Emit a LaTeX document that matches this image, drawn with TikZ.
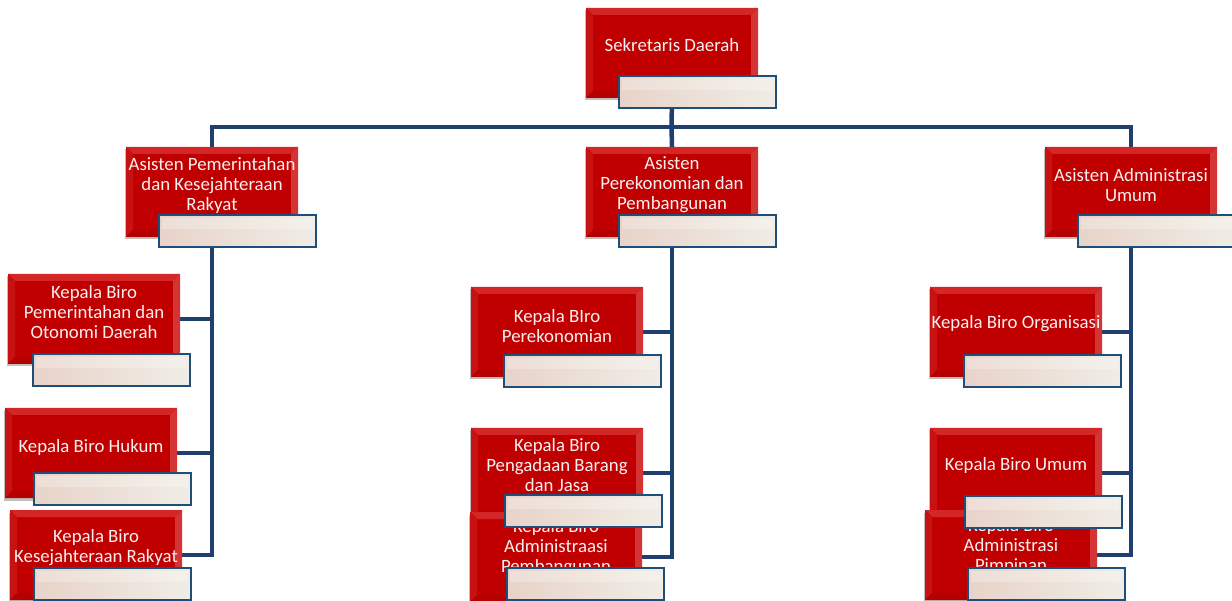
\documentclass[tikz,border=0pt]{standalone}
\usepackage{fontspec}
\setmainfont{Carlito}
\usetikzlibrary{shadows,backgrounds}
\definecolor{redA}{HTML}{C00000}
\definecolor{redTop}{HTML}{D42626}
\definecolor{redLeft}{HTML}{C81212}
\definecolor{redRight}{HTML}{D53434}
\definecolor{redBot}{HTML}{B50000}
\definecolor{connC}{HTML}{1F3F6E}
\definecolor{barBorder}{HTML}{1F4E79}
\definecolor{barL}{HTML}{E8D3C9}
\definecolor{barR}{HTML}{F0EDE6}
\definecolor{txt}{HTML}{F6F0F0}
\tikzset{
  redbox/.style={minimum width=172pt, minimum height=90pt, inner sep=0pt, outer sep=0pt,
    fill=redA, anchor=north west,
    drop shadow={shadow xshift=-1.5pt, shadow yshift=-2.5pt, opacity=0.25, fill=black},
    path picture={
      \coordinate (pnw) at (path picture bounding box.north west);
      \coordinate (pne) at (path picture bounding box.north east);
      \coordinate (pse) at (path picture bounding box.south east);
      \coordinate (psw) at (path picture bounding box.south west);
      \fill[redTop] (pnw) -- (pne) -- ([shift={(-7pt,-7pt)}]pne) -- ([shift={(7pt,-7pt)}]pnw) -- cycle;
      \fill[redLeft] (pnw) -- ([shift={(7pt,-7pt)}]pnw) -- ([shift={(7pt,7pt)}]psw) -- (psw) -- cycle;
      \fill[redRight] (pne) -- ([shift={(-7pt,-7pt)}]pne) -- ([shift={(-7pt,7pt)}]pse) -- (pse) -- cycle;
      \fill[redBot] (psw) -- ([shift={(7pt,7pt)}]psw) -- ([shift={(-7pt,7pt)}]pse) -- (pse) -- cycle;
    }},
  barbox/.style={minimum width=157pt, minimum height=32pt, inner sep=0pt, outer sep=0pt,
    anchor=north west, draw=barBorder, line width=1.8pt,
    left color=barL, right color=barR,
    path picture={
      \fill[white, opacity=0.25] ([shift={(3pt,-3pt)}]path picture bounding box.north west)
        rectangle ([shift={(-3pt,-14pt)}]path picture bounding box.north east);
    }},
  lbl/.style={text=txt, align=center, font=\fontsize{18.8}{20}\selectfont, inner sep=0pt},
  conn/.style={draw=connC, line width=4.5pt}
}
\begin{document}
\begin{tikzpicture}[x=1pt,y=-1pt]
\useasboundingbox (0,0) rectangle (1232,601);
% red boxes
\node[redbox] (sek) at (586,8) {};
\node[redbox] (apk) at (126,147) {};
\node[redbox] (ape) at (586,147) {};
\node[redbox] (aau) at (1045,147) {};
\node[redbox] (kb1) at (8,274) {};
\node[redbox] (kb2) at (5,408) {};
\node[redbox] (kb3) at (10,510) {};
\node[redbox] (kb4) at (471,287) {};
\node[redbox] (kb5) at (471,428) {};
\node[redbox] (kb6) at (470,512) {};
\node[redbox] (kb7) at (930,287) {};
\node[redbox] (kb8) at (930,428) {};
\node[redbox] (kb9) at (925,510) {};
% labels
\node[lbl] (sek-t) at ([yshift=-37pt]sek.north) {Sekretaris Daerah};
\node[lbl] (apk-t) at ([yshift=-38pt]apk.north) {Asisten Pemerintahan\\dan Kesejahteraan\\Rakyat};
\node[lbl] (ape-t) at ([yshift=-38pt]ape.north) {Asisten\\Perekonomian dan\\Pembangunan};
\node[lbl] (aau-t) at ([yshift=-38pt]aau.north) {Asisten Administrasi\\Umum};
\node[lbl] (kb1-t) at ([yshift=-38pt]kb1.north) {Kepala Biro\\Pemerintahan dan\\Otonomi Daerah};
\node[lbl] (kb2-t) at ([yshift=-39pt]kb2.north) {Kepala Biro Hukum};
\node[lbl] (kb3-t) at ([yshift=-38pt]kb3.north) {Kepala Biro\\Kesejahteraan Rakyat};
\node[lbl] (kb4-t) at ([yshift=-39pt]kb4.north) {Kepala BIro\\Perekonomian};
\node[lbl] (kb5-t) at ([yshift=-37pt]kb5.north) {Kepala Biro\\Pengadaan Barang\\dan Jasa};
\node[lbl] (kb6-t) at ([yshift=-36pt]kb6.north) {Kepala Biro\\Administraasi\\Pembangunan};
\node[lbl] (kb7-t) at ([yshift=-37pt]kb7.north) {Kepala Biro Organisasi};
\node[lbl] (kb8-t) at ([yshift=-37pt]kb8.north) {Kepala Biro Umum};
\node[lbl] (kb9-t) at ([yshift=-36pt]kb9.north) {Kepala Biro\\Administrasi\\Pimpinan};
% white bars
\node[barbox] (sek-b) at (619,76) {};
\node[barbox] (apk-b) at (159,215) {};
\node[barbox] (ape-b) at (619,215) {};
\node[barbox] (aau-b) at (1078,215) {};
\node[barbox] (kb1-b) at (33,354) {};
\node[barbox] (kb2-b) at (34,473) {};
\node[barbox] (kb3-b) at (34,568) {};
\node[barbox] (kb4-b) at (504,355) {};
\node[barbox] (kb5-b) at (505,495) {};
\node[barbox] (kb6-b) at (507,568) {};
\node[barbox] (kb7-b) at (964,355) {};
\node[barbox] (kb8-b) at (965,496) {};
\node[barbox] (kb9-b) at (968,568) {};
% connectors
\begin{scope}[on background layer]
\coordinate (hub) at (671.5,127);
\draw[conn] (sek.south) -- (hub);
\draw[conn] (apk.north) |- (hub) -| (aau.north);
\draw[conn] (hub) -- (ape.north);
\draw[conn] (apk.south) |- (kb1.east);
\draw[conn] (apk.south) |- (kb2.east);
\draw[conn] (apk.south) |- (kb3.east);
\draw[conn] (ape.south) |- (kb4.east);
\draw[conn] (ape.south) |- (kb5.east);
\draw[conn] (ape.south) |- (kb6.east);
\draw[conn] (aau.south) |- (kb7.east);
\draw[conn] (aau.south) |- (kb8.east);
\draw[conn] (aau.south) |- (kb9.east);
\end{scope}
\end{tikzpicture}
\end{document}
